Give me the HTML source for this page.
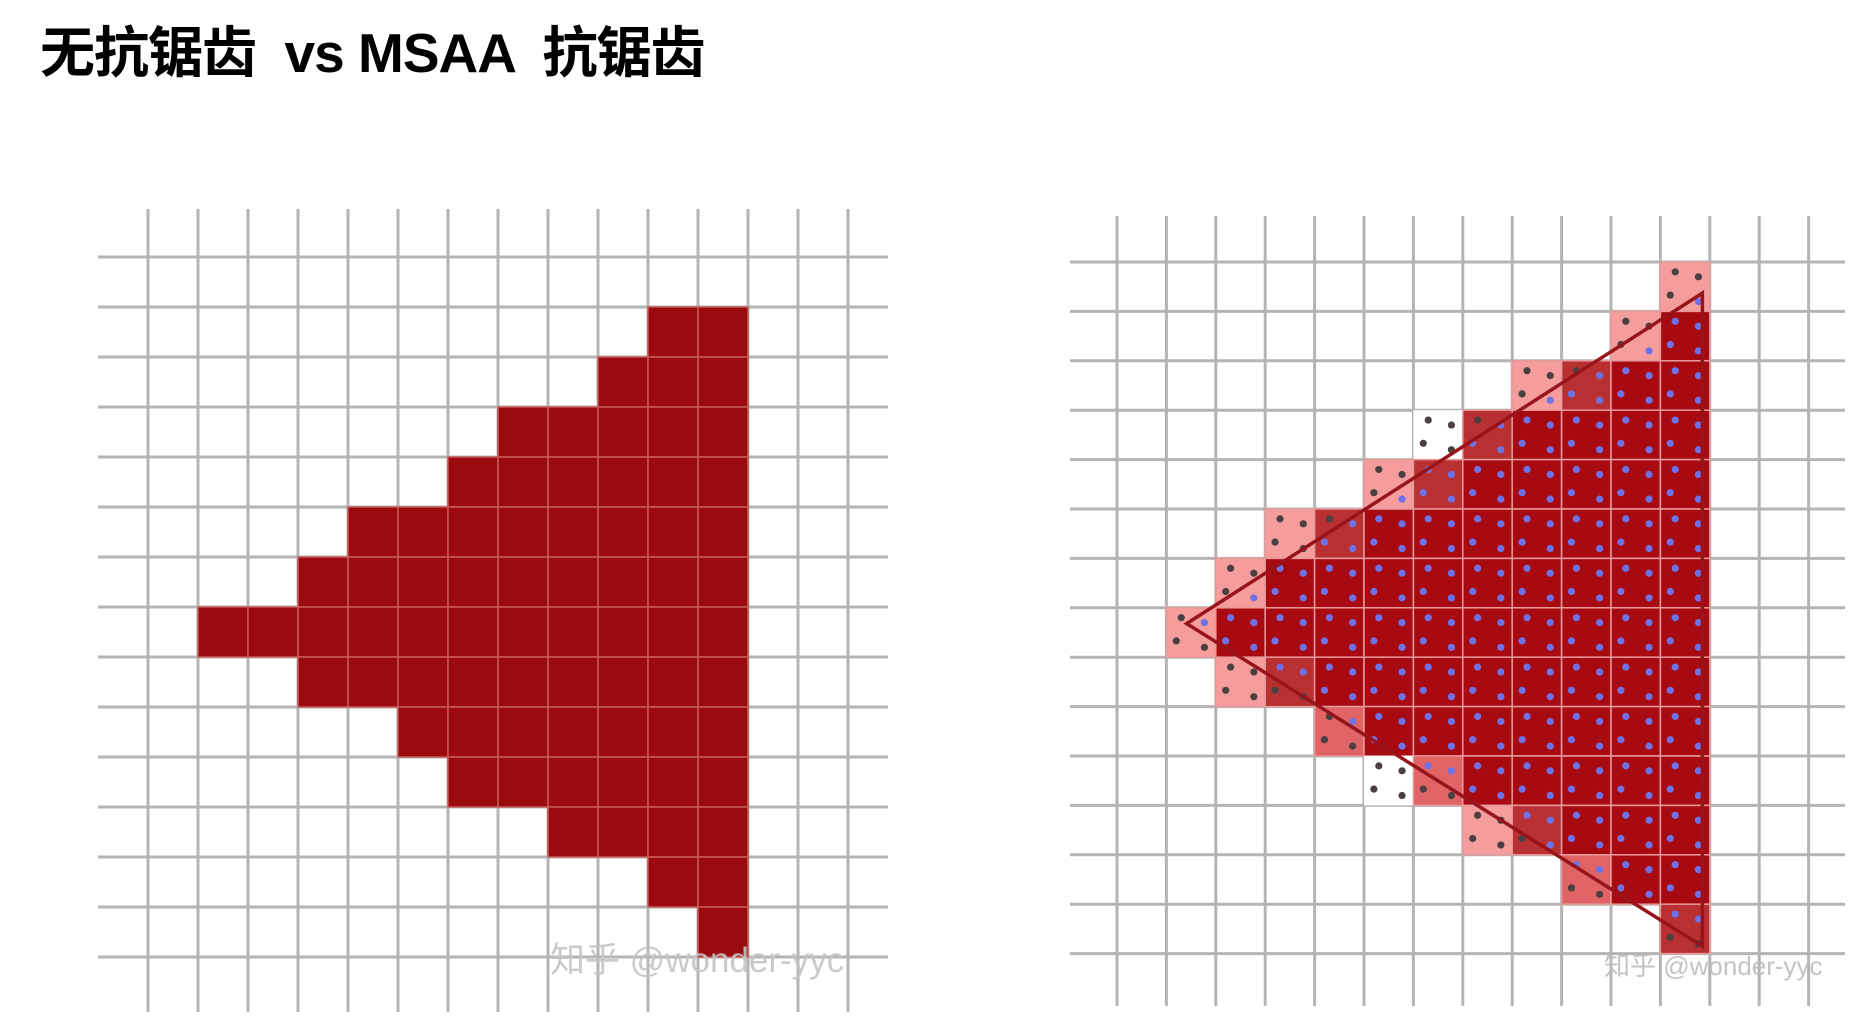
<!DOCTYPE html>
<html><head><meta charset="utf-8">
<style>
html,body{margin:0;padding:0;background:#fff;width:1873px;height:1021px;overflow:hidden}
#title{position:absolute;left:40px;top:8px;font-family:"Liberation Sans","Noto Sans CJK SC",sans-serif;font-weight:bold;font-size:55px;color:#000;white-space:pre;letter-spacing:-1px}
svg{position:absolute;left:0;top:0}
</style></head>
<body>
<div id="title">无抗锯齿  vs MSAA  抗锯齿</div>
<svg id="svg" width="1873" height="1021"></svg>
<script>
// Left: rasterized rows without AA -> [row, firstCol, lastCol]
const leftRows = [1,2,3,4,5,6,7,8,9,10,11,12,13];
const leftStart = [10,9,7,6,4,3,1,3,5,6,8,10,11];
const leftEnd = [11,11,11,11,11,11,11,11,11,11,11,11,11];
// Right: MSAA rows; '.'=empty, w=white w/ dots, p=pink, m=medium, q=medium-pink, d=dark
const rightRows = [
 "...........p",
 "..........pd",
 "........pmdd",
 "......wmdddd",
 ".....pmddddd",
 "...pmddddddd",
 "..pddddddddd",
 ".pdddddddddd",
 "..pmdddddddd",
 "....qddddddd",
 ".....wqddddd",
 ".......pmddd",
 ".........qdd",
 "...........m"
];
// triangle vertices (grid units: col, row)
const triX = [1.41, 11.85, 11.85];
const triY = [7.32, 0.63, 13.85];

const NS="http://www.w3.org/2000/svg";
const svg=document.getElementById('svg');
function mk(tag,attrs,parent){const e=document.createElementNS(NS,tag);for(const k in attrs)e.setAttribute(k,attrs[k]);(parent||svg).appendChild(e);return e;}

// LEFT axes
const L={x0:148,y0:257,s:50.0};
const lx=c=>L.x0+L.s*c, ly=r=>L.y0+L.s*r;
const gL=mk('g',{});


for(let i=0;i<15;i++){
  const v=mk('line',{x1:lx(i),x2:lx(i),y1:209,y2:1012,stroke:'#b4b4b4','stroke-width':3},gL);
  
  
  const h=mk('line',{x1:98,x2:888,y1:ly(i),y2:ly(i),stroke:'#b4b4b4','stroke-width':3},gL);
  
  
}
leftRows.forEach((r,k)=>{
  for(let c=leftStart[k];c<=leftEnd[k];c++){
    const rc=mk('rect',{x:lx(c),y:ly(r),width:L.s,height:L.s,fill:'#9b0a0e',stroke:'#c85a5a','stroke-width':1.5});
    
    
  }
});
const wl=mk('text',{x:550,y:972,'font-size':35,fill:'#c4c4c4','fill-opacity':0.9,'font-family':'"Liberation Sans","Noto Sans CJK SC",sans-serif'});
wl.textContent='知乎 @wonder-yyc';



// RIGHT axes
const R={x0:1117,y0:262,s:49.4};
const rx=c=>R.x0+R.s*c, ry=r=>R.y0+R.s*r;
const gR=mk('g',{});


for(let i=0;i<15;i++){
  const v=mk('line',{x1:rx(i),x2:rx(i),y1:216,y2:1006,stroke:'#b4b4b4','stroke-width':3},gR);
  
  
  const h=mk('line',{x1:1070,x2:1845,y1:ry(i),y2:ry(i),stroke:'#b4b4b4','stroke-width':3},gR);
  
  
}
const fills={w:'#ffffff',p:'#f59c9c',m:'#b93032',q:'#e06466',d:'#a80a12'};
const px=triX.map(rx), py=triY.map(ry);
function inside(x,y){
  let s=0;
  for(let i=0;i<3;i++){const j=(i+1)%3;const cr=(px[j]-px[i])*(y-py[i])-(py[j]-py[i])*(x-px[i]);s+=cr>0?1:-1;}
  return Math.abs(s)===3;
}
const sampleU=[0.3,0.77,0.2,0.77], sampleV=[0.2,0.3,0.67,0.8];
rightRows.forEach((row,r)=>{
  for(let c=0;c<row.length;c++){
    const code=row[c]; if(code==='.')continue;
    const rc=mk('rect',{x:rx(c),y:ry(r),width:R.s,height:R.s,fill:fills[code],stroke:code==='w'?'none':'#e89a9a','stroke-width':1.5});
    
    
    for(let k=0;k<4;k++){
      const sx=rx(c)+R.s*sampleU[k], sy=ry(r)+R.s*sampleV[k];
      const dt=mk('circle',{cx:sx,cy:sy,r:3.6,fill:inside(sx,sy)?'#6f72e6':'#4a4040'});
      
      
    }
  }
});
const tri=mk('polygon',{points:px.map((x,i)=>x+','+py[i]).join(' '),fill:'none',stroke:'#98141a','stroke-width':3.5});


const wr=mk('text',{x:1604,y:975,'font-size':26,fill:'#bcbcbc','fill-opacity':0.9,'font-family':'"Liberation Sans","Noto Sans CJK SC",sans-serif'});
wr.textContent='知乎 @wonder-yyc';


</script>
</body></html>
